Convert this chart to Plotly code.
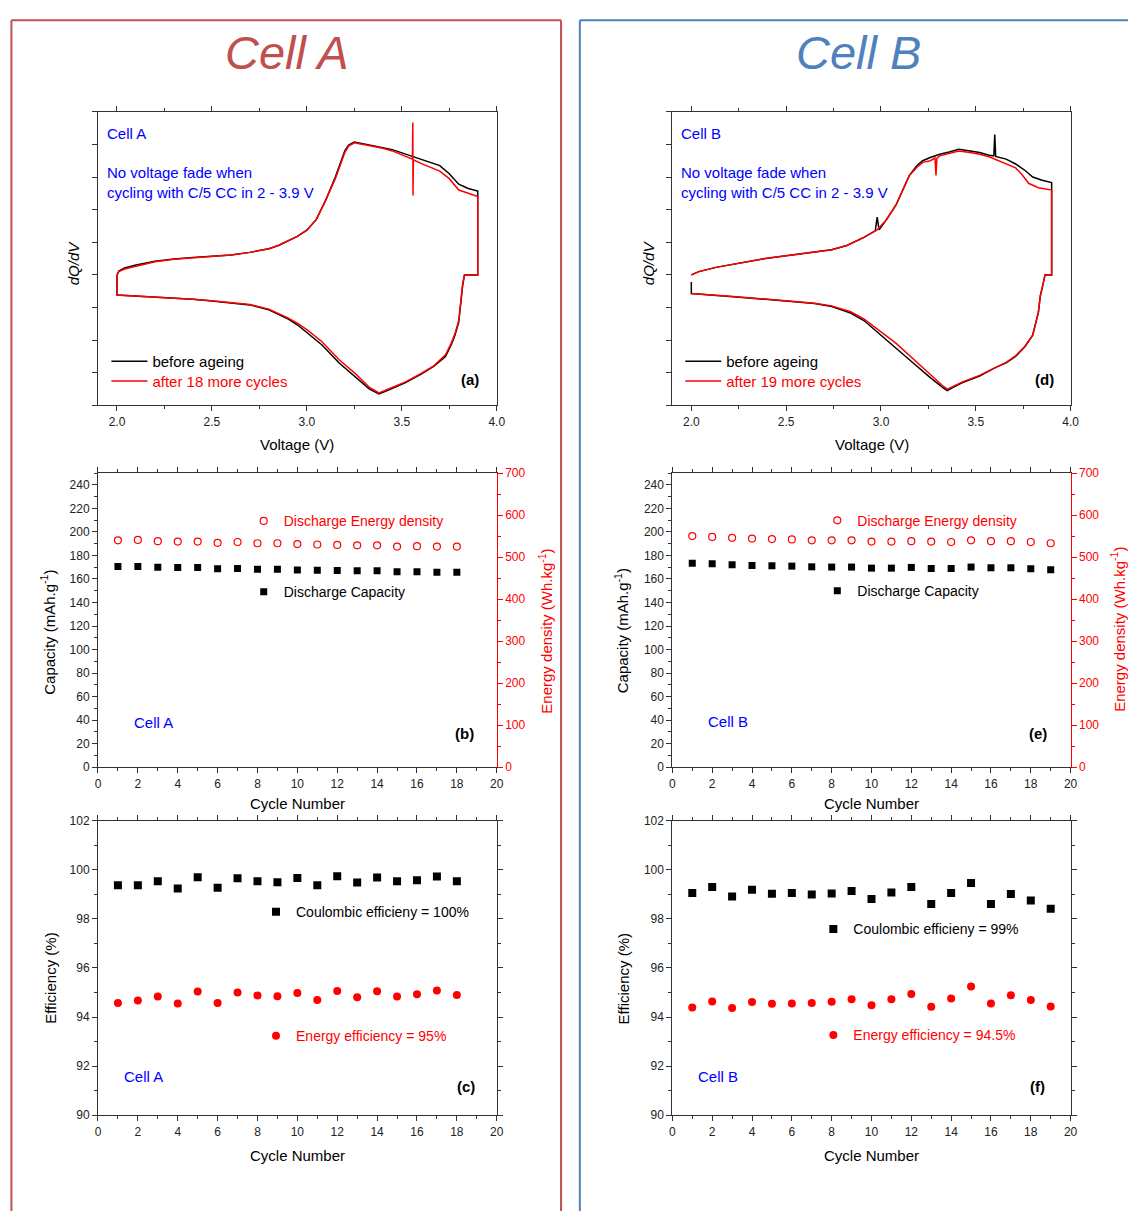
import plotly.graph_objects as go

W, H = 1137, 1218
FONT = "Liberation Sans, Arial, Helvetica, sans-serif"
AXC = "#333333"
RED = "#ff0000"
BLUE = "#0000ff"
FRAME_A = "#c0504d"
FRAME_B = "#4f81bd"


def fx(p):
    return p / W


def fy(p):
    return 1 - p / H


# ---------------- dQ/dV loops (arbitrary units) ----------------
# Cell A, before ageing
a_before_v_ch = [2.0, 2.01, 2.04, 2.1, 2.2, 2.3, 2.4, 2.5, 2.6, 2.7, 2.8, 2.85, 2.9, 2.95, 3.0,
                 3.05, 3.1, 3.15, 3.2, 3.22, 3.25, 3.3, 3.35, 3.4, 3.45, 3.5, 3.55, 3.6, 3.65,
                 3.7, 3.75, 3.8, 3.85, 3.9]
a_before_q_ch = [0.0, 0.12, 0.21, 0.30, 0.42, 0.49, 0.53, 0.57, 0.61, 0.69, 0.80, 0.90, 1.03, 1.18,
                 1.37, 1.70, 2.30, 3.00, 3.80, 3.98, 4.07, 4.02, 3.97, 3.90, 3.84, 3.74, 3.64,
                 3.55, 3.46, 3.35, 3.10, 2.78, 2.65, 2.57]
a_v_dis = [3.9, 3.83, 3.82, 3.81, 3.8, 3.78, 3.76, 3.73, 3.67, 3.6, 3.52, 3.43, 3.38, 3.33, 3.26,
           3.17, 3.08, 3.0, 2.95, 2.9, 2.85, 2.8, 2.7, 2.6, 2.5, 2.4, 2.3, 2.2, 2.1, 2.0, 2.0]
a_before_q_dis = [0.0, 0.0, -0.35, -0.85, -1.45, -1.85, -2.15, -2.50, -2.80, -3.05, -3.30, -3.53,
                  -3.65, -3.50, -3.15, -2.70, -2.15, -1.75, -1.53, -1.35, -1.20, -1.07, -0.92,
                  -0.85, -0.80, -0.75, -0.72, -0.68, -0.65, -0.62, 0.0]
# Cell A, after 18 more cycles
a_after_v_ch = [2.0, 2.01, 2.04, 2.1, 2.2, 2.3, 2.4, 2.5, 2.6, 2.7, 2.8, 2.85, 2.9, 2.95, 3.0,
                3.05, 3.1, 3.15, 3.2, 3.22, 3.25, 3.3, 3.35, 3.4, 3.45, 3.5, 3.55, 3.556, 3.558,
                3.559, 3.561, 3.6, 3.65, 3.7, 3.75, 3.8, 3.85, 3.9]
a_after_q_ch = [0.0, 0.10, 0.18, 0.27, 0.40, 0.48, 0.53, 0.57, 0.61, 0.69, 0.80, 0.90, 1.03, 1.18,
                1.37, 1.70, 2.30, 2.95, 3.75, 3.95, 4.05, 4.00, 3.95, 3.88, 3.80, 3.68, 3.57,
                3.55, 4.67, 2.43, 3.53, 3.42, 3.30, 3.18, 2.95, 2.60, 2.50, 2.40]
a_after_q_dis = [0.0, 0.0, -0.30, -0.80, -1.40, -1.80, -2.10, -2.45, -2.78, -3.03, -3.28, -3.50,
                 -3.62, -3.45, -3.05, -2.60, -2.05, -1.68, -1.48, -1.32, -1.18, -1.05, -0.91,
                 -0.84, -0.79, -0.75, -0.72, -0.68, -0.65, -0.62, 0.0]

# Cell B, before ageing
b_before_v_ch = [2.0, 2.04, 2.13, 2.22, 2.3, 2.39, 2.48, 2.56, 2.65, 2.74, 2.82, 2.91, 2.97, 2.98,
                 2.99, 3.03, 3.08, 3.12, 3.15, 3.19, 3.22, 3.26, 3.31, 3.36, 3.41, 3.47, 3.52,
                 3.57, 3.595, 3.6, 3.605, 3.66, 3.71, 3.76, 3.8, 3.85, 3.9]
b_before_q_ch = [0.0, 0.10, 0.23, 0.33, 0.41, 0.50, 0.57, 0.63, 0.68, 0.77, 0.90, 1.15, 1.35, 1.77,
                 1.38, 1.70, 2.15, 2.65, 3.05, 3.35, 3.50, 3.60, 3.70, 3.77, 3.85, 3.80, 3.75,
                 3.67, 3.65, 4.30, 3.63, 3.55, 3.40, 3.20, 3.00, 2.90, 2.83]
b_v_dis = [3.9, 3.865, 3.856, 3.84, 3.83, 3.81, 3.8, 3.76, 3.71, 3.66, 3.6, 3.52, 3.43, 3.38,
           3.35, 3.33, 3.26, 3.17, 3.08, 3.0, 2.94, 2.91, 2.84, 2.74, 2.65, 2.56, 2.39, 2.22,
           2.04, 2.0, 2.0]
b_before_q_dis = [0.0, 0.0, -0.25, -0.65, -1.15, -1.65, -1.85, -2.20, -2.50, -2.70, -2.85, -3.10,
                  -3.30, -3.45, -3.55, -3.47, -3.15, -2.70, -2.25, -1.85, -1.55, -1.40, -1.17,
                  -0.97, -0.88, -0.83, -0.75, -0.67, -0.60, -0.57, -0.22]
# Cell B, after 19 more cycles
b_after_v_ch = [2.0, 2.04, 2.13, 2.22, 2.3, 2.39, 2.48, 2.56, 2.65, 2.74, 2.82, 2.91, 2.98, 3.03,
                3.08, 3.12, 3.15, 3.19, 3.22, 3.26, 3.285, 3.29, 3.295, 3.31, 3.36, 3.41, 3.47,
                3.52, 3.57, 3.6, 3.66, 3.71, 3.74, 3.78, 3.83, 3.9]
b_after_q_ch = [0.0, 0.10, 0.23, 0.33, 0.41, 0.50, 0.57, 0.63, 0.68, 0.77, 0.90, 1.15, 1.38, 1.70,
                2.15, 2.65, 3.05, 3.30, 3.45, 3.50, 3.58, 3.05, 3.58, 3.65, 3.72, 3.80, 3.75,
                3.70, 3.62, 3.55, 3.42, 3.28, 3.10, 2.80, 2.67, 2.60]
b_after_q_dis = [0.0, 0.0, -0.25, -0.65, -1.15, -1.65, -1.85, -2.18, -2.48, -2.68, -2.85, -3.08,
                 -3.28, -3.42, -3.50, -3.42, -3.05, -2.57, -2.10, -1.75, -1.48, -1.35, -1.13,
                 -0.95, -0.87, -0.82, -0.74, -0.66, -0.59, -0.57, -0.57]

# ---------------- cycling data ----------------
cycles_a = list(range(1, 19))
cycles_b = list(range(1, 20))

capacity_a = [170.5, 170.5, 170.0, 169.7, 169.7, 168.6, 168.9, 168.3, 168.3, 167.7, 167.5, 167.2,
              166.9, 166.9, 166.1, 166.1, 165.8, 165.8]
energy_a = [540, 541, 538, 537, 537, 534, 536, 533, 533, 531, 530, 529, 528, 528, 525, 526, 525, 525]
ce_a = [99.37, 99.37, 99.54, 99.24, 99.70, 99.27, 99.66, 99.54, 99.50, 99.67, 99.37, 99.74, 99.49,
        99.69, 99.54, 99.58, 99.73, 99.54]
ee_a = [94.57, 94.67, 94.84, 94.55, 95.04, 94.57, 95.00, 94.88, 94.85, 94.98, 94.69, 95.06, 94.81,
        95.05, 94.84, 94.93, 95.08, 94.90]

capacity_b = [173.4, 172.9, 172.0, 171.5, 171.2, 170.9, 170.3, 170.1, 170.1, 169.2, 169.2, 169.8,
              168.9, 168.9, 170.1, 169.5, 169.5, 168.7, 167.8]
energy_b = [550, 548, 546, 544, 543, 542, 540, 540, 540, 537, 537, 538, 537, 536, 540, 538, 538,
            536, 533]
ce_b = [99.06, 99.30, 98.91, 99.19, 99.03, 99.06, 99.00, 99.04, 99.14, 98.81, 99.08, 99.30, 98.61,
        99.06, 99.47, 98.61, 99.02, 98.75, 98.42]
ee_b = [94.39, 94.63, 94.37, 94.61, 94.54, 94.55, 94.57, 94.62, 94.72, 94.48, 94.72, 94.94, 94.42,
        94.76, 95.24, 94.55, 94.89, 94.69, 94.43]

fig = go.Figure()


# ---- dQ/dV traces ----
def add_loop(v_ch, q_ch, v_dis, q_dis, color, name, xa, ya, leg):
    fig.add_trace(go.Scatter(x=v_ch + v_dis, y=q_ch + q_dis, mode="lines", name=name,
                             line=dict(color=color, width=1.5), xaxis=xa, yaxis=ya,
                             legend=leg, showlegend=True))


add_loop(a_before_v_ch, a_before_q_ch, a_v_dis, a_before_q_dis, "black", "before ageing",
         "x", "y", "legend")
add_loop(a_after_v_ch, a_after_q_ch, a_v_dis, a_after_q_dis, RED, "after 18 more cycles",
         "x", "y", "legend2")
add_loop(b_before_v_ch, b_before_q_ch, b_v_dis, b_before_q_dis, "black", "before ageing",
         "x4", "y5", "legend3")
add_loop(b_after_v_ch, b_after_q_ch, b_v_dis, b_after_q_dis, RED, "after 19 more cycles",
         "x4", "y5", "legend4")

# ---- capacity / energy density ----
sq = dict(symbol="square", size=7, color="black")
oc = dict(symbol="circle-open", size=7, color=RED, line=dict(width=1.2, color=RED))
fig.add_trace(go.Scatter(x=cycles_a, y=energy_a, mode="markers", marker=oc,
                         name="Discharge Energy density", xaxis="x2", yaxis="y3", legend="legend5"))
fig.add_trace(go.Scatter(x=cycles_a, y=capacity_a, mode="markers", marker=sq,
                         name="Discharge Capacity", xaxis="x2", yaxis="y2", legend="legend6"))
fig.add_trace(go.Scatter(x=cycles_b, y=energy_b, mode="markers", marker=oc,
                         name="Discharge Energy density", xaxis="x5", yaxis="y7", legend="legend9"))
fig.add_trace(go.Scatter(x=cycles_b, y=capacity_b, mode="markers", marker=sq,
                         name="Discharge Capacity", xaxis="x5", yaxis="y6", legend="legend10"))

# ---- efficiencies ----
sq8 = dict(symbol="square", size=8, color="black")
fc8 = dict(symbol="circle", size=8, color=RED)
fig.add_trace(go.Scatter(x=cycles_a, y=ce_a, mode="markers", marker=sq8,
                         name="Coulombic efficieny = 100%", xaxis="x3", yaxis="y4", legend="legend7"))
fig.add_trace(go.Scatter(x=cycles_a, y=ee_a, mode="markers", marker=fc8,
                         name="Energy efficiency = 95%", xaxis="x3", yaxis="y4", legend="legend8"))
fig.add_trace(go.Scatter(x=cycles_b, y=ce_b, mode="markers", marker=sq8,
                         name="Coulombic efficieny = 99%", xaxis="x6", yaxis="y8", legend="legend11"))
fig.add_trace(go.Scatter(x=cycles_b, y=ee_b, mode="markers", marker=fc8,
                         name="Energy efficiency = 94.5%", xaxis="x6", yaxis="y8", legend="legend12"))

# ---------------- axes ----------------
base = dict(showgrid=False, zeroline=False, showline=True, linecolor=AXC, linewidth=1,
            ticks="outside", tickcolor=AXC, ticklen=5, tickwidth=1,
            tickfont=dict(size=12, color="#222222", family=FONT))


def ax(**kw):
    d = dict(base)
    d.update(kw)
    return d


def minor(dt, color=AXC):
    return dict(dtick=dt, ticks="outside", ticklen=3, tickcolor=color, tickwidth=1,
                showgrid=False)


A_X = [fx(96), fx(499)]
B_X = [fx(676.5), fx(1079)]
ROW1 = [fy(403), fy(106)]
ROW2 = [fy(769), fy(471.5)]
ROW3 = [fy(1121), fy(823.3)]

layout_axes = {}
# (a) and (d): dQ/dV vs voltage
for xn, yn, dom, xid, yid in (("xaxis", "yaxis", A_X, "x", "y"),
                              ("xaxis4", "yaxis5", B_X, "x4", "y5")):
    layout_axes[xn] = ax(domain=dom, range=[1.9, 4.0], tick0=2.0, dtick=0.5, tickformat=".1f",
                         anchor=yid, mirror="ticks", minor=minor(0.25))
    layout_axes[yn] = ax(domain=ROW1, range=[-4, 5], dtick=1, showticklabels=False,
                         anchor=xid, mirror=True)

# (b) and (e): capacity + energy density
for xn, yl, yr, dom, xid, ylid in (("xaxis2", "yaxis2", "yaxis3", A_X, "x2", "y2"),
                                   ("xaxis5", "yaxis6", "yaxis7", B_X, "x5", "y6")):
    layout_axes[xn] = ax(domain=dom, range=[0, 20], dtick=2, anchor=ylid, mirror="ticks",
                         minor=minor(1))
    layout_axes[yl] = ax(domain=ROW2, range=[0, 250], dtick=20, anchor=xid, minor=minor(10))
    layout_axes[yr] = ax(range=[0, 700], dtick=100, anchor=xid, overlaying=ylid, side="right",
                         linecolor=RED, tickcolor=RED,
                         tickfont=dict(size=12, color=RED, family=FONT),
                         minor=minor(50, color=RED))

# (c) and (f): efficiencies
for xn, yn, dom, xid, yid in (("xaxis3", "yaxis4", A_X, "x3", "y4"),
                              ("xaxis6", "yaxis8", B_X, "x6", "y8")):
    layout_axes[xn] = ax(domain=dom, range=[0, 20], dtick=2, anchor=yid, mirror="ticks",
                         minor=minor(1))
    layout_axes[yn] = ax(domain=ROW3, range=[90, 102], dtick=2, anchor=xid, mirror="ticks",
                         minor=minor(1))


# ---------------- legends ----------------
def leg(x_px, y_px, color, size=15, itemwidth=30):
    return dict(x=fx(x_px), y=fy(y_px), xanchor="left", yanchor="middle",
                bgcolor="rgba(0,0,0,0)", borderwidth=0, itemwidth=itemwidth,
                font=dict(size=size, color=color, family=FONT), tracegroupgap=0)


legends = {
    "legend": leg(104.5, 358.7, "black", itemwidth=36),
    "legend2": leg(104.5, 378.7, RED, itemwidth=36),
    "legend3": leg(684.5, 358.7, "black", itemwidth=36),
    "legend4": leg(684.5, 378.7, RED, itemwidth=36),
    "legend5": leg(243.3, 520.3, RED, 14),
    "legend6": leg(243.3, 592, "black", 14),
    "legend7": leg(255.7, 915.7, "black", 14),
    "legend8": leg(255.7, 1041, RED, 14),
    "legend9": leg(823, 519.7, RED, 14),
    "legend10": leg(823, 591, "black", 14),
    "legend11": leg(819, 933, "black", 14),
    "legend12": leg(819, 1040.3, RED, 14),
}

# ---------------- text ----------------
ann = []


def text(t, x_px, y_px, size=15, color="black", xanchor="left", angle=0,
         weight="normal", style="normal"):
    ann.append(dict(text=t, x=fx(x_px), y=fy(y_px), xref="paper", yref="paper",
                    xanchor=xanchor, yanchor="middle", showarrow=False, textangle=angle,
                    align="left",
                    font=dict(size=size, color=color, family=FONT, weight=weight, style=style)))


text("Cell A", 287.5, 46, 47, FRAME_A, "center", style="italic")
text("Cell B", 865, 46, 47, FRAME_B, "center", style="italic")

for dx, cell in ((0, "Cell A"), (581, "Cell B")):
    text(cell, 102.7 + dx, 128.3, 15, BLUE)
    text("No voltage fade when<br>cycling with C/5 CC in 2 - 3.9 V", 102.7 + dx, 178, 15, BLUE)
    text("Voltage (V)", 297.5 + dx, 443, 15, "black", "center")
    text("dQ/dV", 71 + dx, 259, 15, "black", "center", -90, style="italic")

text("(a)", 471.7, 377.3, 15, "black", "center", weight="bold")
text("(d)", 1052.7, 377.3, 15, "black", "center", weight="bold")

text("Cell A", 130.4, 724.3, 15, BLUE)
text("(b)", 466.3, 735.3, 15, "black", "center", weight="bold")
text("Capacity (mAh.g<sup>-1</sup>)", 45, 632.5, 15, "black", "center", -90)
text("Energy density (Wh.kg<sup>-1</sup>)", 548, 631.7, 15, RED, "center", -90)
text("Cycle Number", 297.5, 806, 15, "black", "center")

text("Cell B", 710.3, 723.3, 15, BLUE)
text("(e)", 1046.4, 735.3, 15, "black", "center", weight="bold")
text("Capacity (mAh.g<sup>-1</sup>)", 624.6, 631.5, 15, "black", "center", -90)
text("Energy density (Wh.kg<sup>-1</sup>)", 1127, 630, 15, RED, "center", -90)
text("Cycle Number", 877.5, 806, 15, "black", "center")

text("Cell A", 120.7, 1082, 15, BLUE)
text("(c)", 467.7, 1091.7, 15, "black", "center", weight="bold")
text("Efficiency (%)", 48.6, 983, 15, "black", "center", -90)
text("Cycle Number", 297.5, 1161.7, 15, "black", "center")

text("Cell B", 700.2, 1082.3, 15, BLUE)
text("(f)", 1045.4, 1092, 15, "black", "center", weight="bold")
text("Efficiency (%)", 627.3, 983, 15, "black", "center", -90)
text("Cycle Number", 877.5, 1161.7, 15, "black", "center")


# ---------------- panel frames (open at the bottom / page edge) ----------------
def seg(x0, y0, x1, y1, color):
    return dict(type="line", xref="paper", yref="paper", x0=fx(x0), y0=fy(y0),
                x1=fx(x1), y1=fy(y1), line=dict(color=color, width=2))


shapes = [
    seg(8.5, 1218, 8.5, 13.5, FRAME_A),
    seg(8.5, 13.5, 564, 13.5, FRAME_A),
    seg(564, 13.5, 564, 1218, FRAME_A),
    seg(583, 1218, 583, 13.5, FRAME_B),
    seg(583, 13.5, 1137, 13.5, FRAME_B),
]

fig.update_layout(
    width=W, height=H, autosize=False,
    margin=dict(l=0, r=0, t=0, b=0),
    paper_bgcolor="white", plot_bgcolor="white",
    showlegend=True,
    font=dict(family=FONT, size=14, color="black"),
    annotations=ann, shapes=shapes,
    **layout_axes, **legends,
)

fig.write_html("out.html")
